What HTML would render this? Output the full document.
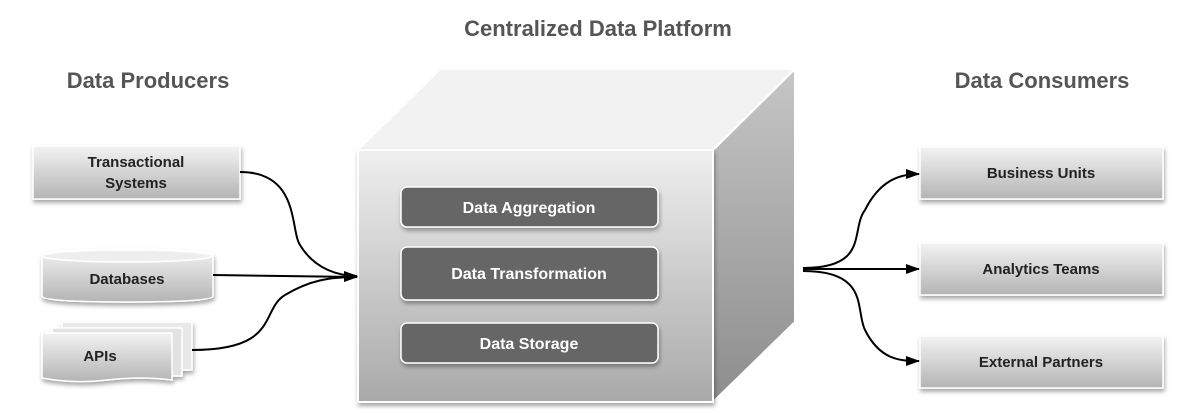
<!DOCTYPE html>
<html><head><meta charset="utf-8"><style>
body{margin:0;width:1185px;height:409px;background:#fff;overflow:hidden;font-family:"Liberation Sans",sans-serif}
</style></head><body>
<svg width="1185" height="409" viewBox="0 0 1185 409" xmlns="http://www.w3.org/2000/svg">
<defs>
<linearGradient id="box" x1="0" y1="0" x2="0" y2="1"><stop offset="0" stop-color="#f3f3f3"/><stop offset="1" stop-color="#b4b4b4"/></linearGradient>
<linearGradient id="front" x1="0" y1="0" x2="0" y2="1"><stop offset="0" stop-color="#efefef"/><stop offset="1" stop-color="#a9a9a9"/></linearGradient>
<linearGradient id="side" x1="0" y1="0" x2="0" y2="1"><stop offset="0" stop-color="#c6c6c6"/><stop offset="1" stop-color="#8d8d8d"/></linearGradient>
<filter id="sh" x="-10%" y="-10%" width="130%" height="140%"><feDropShadow dx="1" dy="3" stdDeviation="2" flood-color="#000" flood-opacity="0.35"/></filter>
<marker id="ar" markerWidth="14" markerHeight="12" refX="13" refY="6" orient="auto" markerUnits="userSpaceOnUse"><path d="M0,1 L14,6 L0,11 z" fill="#000"/></marker>
</defs>
<g font-weight="bold" fill="#555" font-size="22" text-anchor="middle">
<text x="598" y="36">Centralized Data Platform</text>
<text x="148" y="88">Data Producers</text>
<text x="1042" y="88">Data Consumers</text>
</g>
<!-- cube -->
<polygon points="358,150 440,69 795,69 713,150" fill="#f2f2f2" stroke="#fff" stroke-width="2"/>
<polygon points="713,150 795,69 795,322 713,402" fill="url(#side)" stroke="#fff" stroke-width="2"/>
<rect x="358" y="150" width="355" height="252" fill="url(#front)" stroke="#fff" stroke-width="2" filter="url(#sh)"/>
<g filter="url(#sh)" fill="#666" stroke="#fff" stroke-width="1.5">
<rect x="401" y="187" width="257" height="40" rx="6"/>
<rect x="401" y="247" width="257" height="53" rx="6"/>
<rect x="401" y="323" width="257" height="40" rx="6"/>
</g>
<g fill="#fff" font-size="16" text-anchor="middle" font-weight="bold">
<text x="529" y="213">Data Aggregation</text>
<text x="529" y="279">Data Transformation</text>
<text x="529" y="349">Data Storage</text>
</g>
<!-- left boxes -->
<g filter="url(#sh)" stroke="#fff" stroke-width="1.5">
<rect x="33" y="146" width="207" height="53" fill="url(#box)"/>
<path d="M42,256 Q42,249 127,249 Q213,249 213,256 L213,296 Q213,302 127,302 Q42,302 42,296 Z" fill="url(#box)"/>
<ellipse cx="127" cy="256" rx="85" ry="6" fill="#eee"/>
<rect x="62" y="322" width="130" height="48" fill="#e8e8e8"/>
<rect x="52" y="328" width="130" height="48" fill="#e2e2e2"/>
<path d="M42,333 L172,333 L172,380 Q140,376 107,380 Q75,384 42,378 Z" fill="url(#box)"/>
</g>
<g fill="#222" font-size="15" font-weight="bold" text-anchor="middle">
<text x="136" y="167">Transactional</text>
<text x="136" y="188">Systems</text>
<text x="127" y="284">Databases</text>
<text x="100" y="361">APIs</text>
</g>
<!-- right boxes -->
<g filter="url(#sh)" stroke="#fff" stroke-width="1.5" fill="url(#box)">
<rect x="920" y="147" width="243" height="52"/>
<rect x="920" y="243" width="243" height="52"/>
<rect x="920" y="336" width="243" height="52"/>
</g>
<g fill="#222" font-size="15" font-weight="bold" text-anchor="middle">
<text x="1041" y="178">Business Units</text>
<text x="1041" y="274">Analytics Teams</text>
<text x="1041" y="367">External Partners</text>
</g>
<!-- connectors -->
<g fill="none" stroke="#000" stroke-width="2">
<path d="M240,172 C300,172 290,230 300,245 C315,270 340,276 357,276" marker-end="url(#ar)"/>
<path d="M213,275 L357,277" marker-end="url(#ar)"/>
<path d="M192,350 C280,350 260,310 285,295 C310,280 330,277 357,277" marker-end="url(#ar)"/>
<path d="M803,268 C870,268 850,230 865,210 C880,180 900,174 919,174" marker-end="url(#ar)"/>
<path d="M803,269 L919,269" marker-end="url(#ar)"/>
<path d="M803,271 C870,271 855,310 865,330 C880,360 900,361 919,361" marker-end="url(#ar)"/>
</g>
</svg>
</body></html>
